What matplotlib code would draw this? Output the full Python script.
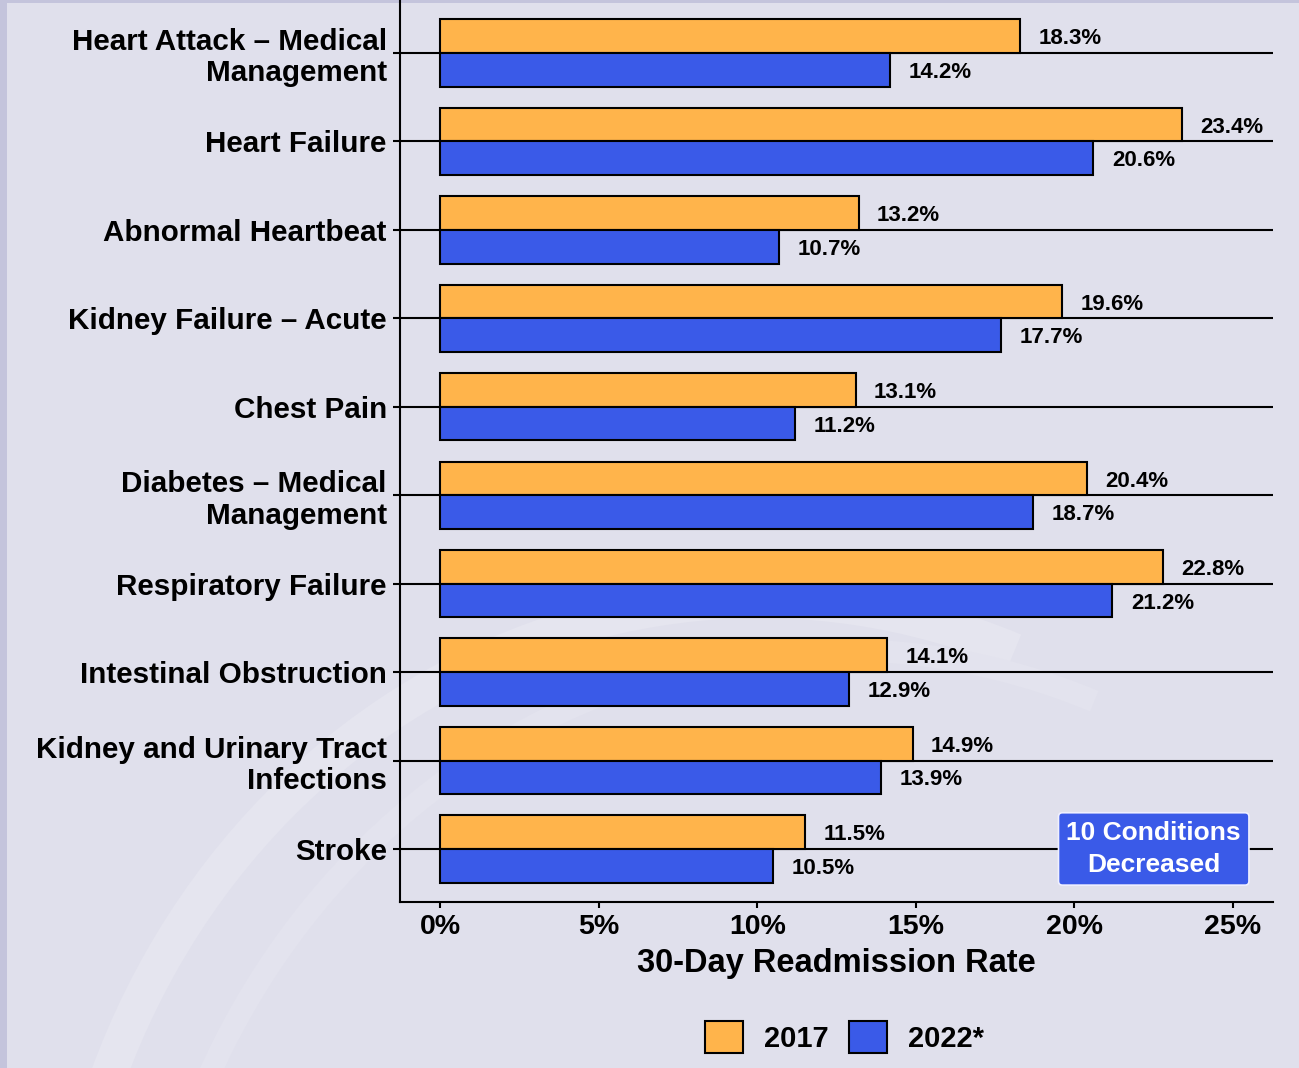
import matplotlib
matplotlib.use("Agg")
import matplotlib.pyplot as plt
import numpy as np
from matplotlib.patches import Rectangle, Patch, Arc

plt.rcParams['font.family'] = ['Liberation Sans', 'DejaVu Sans']
plt.rcParams['font.weight'] = 'bold'

categories = [
    "Heart Attack \u2013 Medical\nManagement",
    "Heart Failure",
    "Abnormal Heartbeat",
    "Kidney Failure \u2013 Acute",
    "Chest Pain",
    "Diabetes \u2013 Medical\nManagement",
    "Respiratory Failure",
    "Intestinal Obstruction",
    "Kidney and Urinary Tract\nInfections",
    "Stroke",
]
rate_2017 = [18.3, 23.4, 13.2, 19.6, 13.1, 20.4, 22.8, 14.1, 14.9, 11.5]
rate_2022 = [14.2, 20.6, 10.7, 17.7, 11.2, 18.7, 21.2, 12.9, 13.9, 10.5]
series_names = ["2017", "2022*"]
xticks = [0, 5, 10, 15, 20, 25]
xtick_labels = ["0%", "5%", "10%", "15%", "20%", "25%"]
xlabel = "30-Day Readmission Rate"
note_text = "10 Conditions\nDecreased"

ORANGE = "#FFB44B"
BLUE = "#3A5AE8"
BG = "#E0E0EC"

fig = plt.figure(figsize=(12.99, 10.68), dpi=100, facecolor=BG)

# background layer (frame strips + faint watermark)
bg = fig.add_axes([0, 0, 1, 1], zorder=-10)
bg.set_xlim(0, 1299)
bg.set_ylim(1068, 0)
bg.axis("off")
bg.add_patch(Rectangle((0, 0), 7, 1068, facecolor="#C4C4DC", edgecolor="none"))
bg.add_patch(Rectangle((0, 0), 1299, 3, facecolor="#C4C4DC", edgecolor="none"))
bg.add_patch(Arc((760, 1350), 1400, 1500, theta1=185, theta2=290,
                 color="#E5E5EF", lw=26))
bg.add_patch(Arc((840, 1400), 1400, 1500, theta1=190, theta2=290,
                 color="#E3E3EE", lw=16))

ax = fig.add_axes([400/1299, 1 - 902/1068, 873/1299, 902/1068], zorder=1)
ax.set_facecolor("none")

y = np.arange(len(categories))
h = 0.38

for yi in y:
    ax.plot([-1.26, 26.26], [yi, yi], color="black", lw=1.5, zorder=1,
            solid_capstyle="butt")

ax.barh(y - h/2, rate_2017, height=h, color=ORANGE, edgecolor="black",
        linewidth=1.5, zorder=2, label=series_names[0])
ax.barh(y + h/2, rate_2022, height=h, color=BLUE, edgecolor="black",
        linewidth=1.5, zorder=2, label=series_names[1])

for yi, v in zip(y, rate_2017):
    ax.text(v + 0.58, yi - h/2 + 0.03, f"{v:.1f}%", va="center", ha="left",
            fontsize=16, fontweight="bold", zorder=3)
for yi, v in zip(y, rate_2022):
    ax.text(v + 0.58, yi + h/2 + 0.03, f"{v:.1f}%", va="center", ha="left",
            fontsize=16, fontweight="bold", zorder=3)

ax.set_xlim(-1.26, 26.26)
ax.set_ylim(9.6, -0.6)
ax.set_yticks(y)
ax.set_yticklabels(categories, fontsize=21.3, fontweight="bold", linespacing=1.15)
ax.set_xticks(xticks)
ax.set_xticklabels(xtick_labels, fontsize=20.5, fontweight="bold")
ax.tick_params(axis="y", length=5, width=1.5, pad=4.5)
ax.tick_params(axis="x", length=4, width=1.5, pad=4.5)
ax.set_xlabel(xlabel, fontsize=23.5, fontweight="bold", labelpad=6)

ax.spines["top"].set_visible(False)
ax.spines["right"].set_visible(False)
ax.spines["left"].set_linewidth(1.5)
ax.spines["bottom"].set_linewidth(1.5)

ax.text(22.5, 9.0, note_text, ha="center", va="center", color="white",
        fontsize=19, fontweight="bold", linespacing=1.45, zorder=5,
        bbox=dict(boxstyle="round,pad=0.3,rounding_size=0.15", facecolor=BLUE,
                  edgecolor="#F0F0FF", linewidth=1.2))

handles = [Patch(facecolor=ORANGE, edgecolor="black", linewidth=1.5),
           Patch(facecolor=BLUE, edgecolor="black", linewidth=1.5)]
fig.legend(handles, series_names, loc="center", bbox_to_anchor=(0.65, 0.029),
           ncol=2, frameon=False, prop=dict(size=21, weight="bold"),
           handlelength=1.3, handleheight=1.3, handletextpad=0.72,
           columnspacing=0.72)

fig.savefig("out.png", dpi=100, facecolor=BG)
